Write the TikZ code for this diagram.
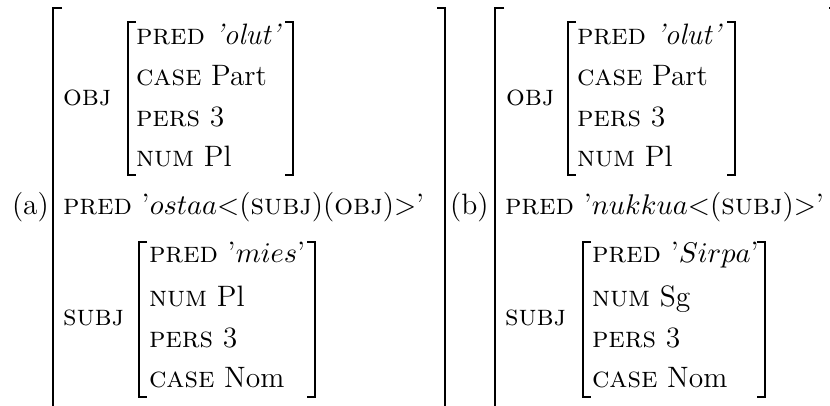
\documentclass[tikz,border=0pt]{standalone}
\begin{document}
\begin{tikzpicture}[x=0.3846pt,y=-0.3846pt,
  txt/.style={anchor=base west,inner sep=0pt,outer sep=0pt,font=\fontsize{11.35}{14}\selectfont},
  brk/.style={line width=0.8pt,line cap=butt,line join=miter}]
\useasboundingbox (0,0) rectangle (830,406);
\clip (0,0) rectangle (830,406);
% ---------- (a) ----------
\node[txt] (la) at (12,215) {(a)};
\draw[brk] (62,8) -- (53,8) -- (53,430);
\draw[brk] (437,8) -- (445,8) -- (445,430);
\node[txt] (aobj) at (63,106) {\textsc{obj}};
\draw[brk] (136,22) -- (128,22) -- (128,175) -- (136,175);
\draw[brk] (285,22) -- (293,22) -- (293,175) -- (285,175);
\node[txt] (ao1) at (136,45) {\textsc{pred} \textit{'olut'}};
\node[txt] (ao2) at (136,86) {\textsc{case} Part};
\node[txt] (ao3) at (136,127) {\textsc{pers} 3};
\node[txt] (ao4) at (136,167) {\textsc{num} Pl};
\node[txt] (apred) at (63,215) {\textsc{pred} '$ostaa{<}$(\textsc{subj})(\textsc{obj})$>$'};
\node[txt] (asubj) at (63,326) {\textsc{subj}};
\draw[brk] (147,242) -- (139,242) -- (139,397) -- (147,397);
\draw[brk] (307,242) -- (315,242) -- (315,397) -- (307,397);
\node[txt] (as1) at (149,263) {\textsc{pred} '$mies$'};
\node[txt] (as2) at (149,306) {\textsc{num} Pl};
\node[txt] (as3) at (149,347) {\textsc{pers} 3};
\node[txt] (as4) at (149,387) {\textsc{case} Nom};
% ---------- (b) ----------
\node[txt] (lb) at (450,215) {(b)};
\draw[brk] (504,8) -- (495,8) -- (495,430);
\draw[brk] (829,8) -- (838,8) -- (838,430);
\node[txt] (bobj) at (506,106) {\textsc{obj}};
\draw[brk] (576,22) -- (568,22) -- (568,175) -- (576,175);
\draw[brk] (727,22) -- (735,22) -- (735,175) -- (727,175);
\node[txt] (bo1) at (577,45) {\textsc{pred} \textit{'olut'}};
\node[txt] (bo2) at (577,86) {\textsc{case} Part};
\node[txt] (bo3) at (577,127) {\textsc{pers} 3};
\node[txt] (bo4) at (577,167) {\textsc{num} Pl};
\node[txt] (bpred) at (505,215) {\textsc{pred} '$nukkua{<}$(\textsc{subj})$>$'};
\node[txt] (bsubj) at (505,326) {\textsc{subj}};
\draw[brk] (591,242) -- (583,242) -- (583,397) -- (591,397);
\draw[brk] (757,242) -- (765,242) -- (765,397) -- (757,397);
\node[txt] (bs1) at (592,263) {\textsc{pred} '$Sirpa$'};
\node[txt] (bs2) at (592,306) {\textsc{num} Sg};
\node[txt] (bs3) at (592,347) {\textsc{pers} 3};
\node[txt] (bs4) at (592,387) {\textsc{case} Nom};
\end{tikzpicture}
\end{document}
